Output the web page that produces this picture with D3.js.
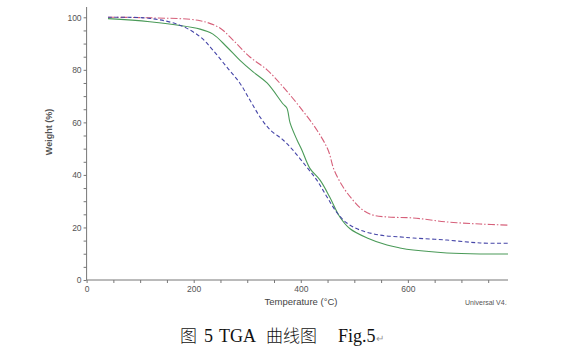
<!DOCTYPE html>
<html lang="zh">
<head>
<meta charset="UTF-8">
<title>TGA 曲线图</title>
<script src="https://cdn.jsdelivr.net/npm/d3@7/dist/d3.min.js"></script>
<style>
  body { margin: 0; background: #fff; }
  svg { display: block; }
</style>
</head>
<body>
<svg id="chart" width="580" height="355"></svg>
<script>
// 温度 (°C) 与失重 (%) 读数
var redT = [40, 118, 212, 249, 273, 305, 337, 367, 398, 430, 451, 462, 479, 497, 516, 535, 561, 610, 673, 735, 787];
var redW = [100, 99.8, 98.7, 95.9, 91.4, 84.9, 80, 73.5, 65.9, 57.1, 49.5, 42, 35.4, 30.5, 26.6, 24.7, 24, 23.6, 22.1, 21.3, 20.9];

var greenT = [40, 118, 212, 236, 262, 286, 311, 337, 367, 374, 380, 393, 402, 417, 436, 454, 473, 492, 524, 561, 585, 610, 673, 735, 787];
var greenW = [99.5, 98.3, 95.5, 93.6, 88.7, 83.7, 79.2, 75, 67, 65.5, 59.8, 53.3, 49.5, 42.5, 38, 31.6, 24, 19.5, 16, 13.3, 12.2, 11.4, 10.3, 9.9, 9.9];

var blueT = [40, 118, 174, 212, 236, 262, 286, 305, 324, 343, 367, 385, 411, 430, 449, 468, 486, 511, 548, 585, 610, 673, 735, 787];
var blueW = [100, 99.6, 97, 92.6, 87.5, 81, 75, 68.5, 62, 57.1, 53.3, 49.5, 43, 38, 31.6, 25.5, 21.7, 19, 17.1, 16.4, 16, 15.2, 14.1, 14];

var xTicks = [0, 200, 400, 600];
var yTicks = [0, 20, 40, 60, 80, 100];

var svg = d3.select("#chart");

var x = d3.scaleLinear().domain([0, 787]).range([86.6, 508]);
var y = d3.scaleLinear().domain([0, 100]).range([280, 17.3]);

var axisColor = "#777";

// 坐标轴
var gx = svg.append("g").attr("transform", "translate(0,280)");
gx.call(d3.axisBottom(x).tickValues(d3.range(0, 787, 50)).tickSize(3).tickFormat(""));
gx.selectAll(".tick").filter(function(d) { return xTicks.indexOf(d) >= 0; })
  .append("text").attr("y", 12).attr("fill", "#555")
  .attr("font-size", 8.5).attr("font-family", "Arial, 'Liberation Sans', sans-serif")
  .text(function(d) { return d; });
gx.select(".domain").attr("d", "M" + x(0) + ",0H" + x(787));

var gy = svg.append("g").attr("transform", "translate(86.6,0)");
gy.call(d3.axisLeft(y).tickValues(d3.range(0, 101, 5)).tickSize(3).tickFormat(""));
gy.selectAll(".tick").filter(function(d) { return yTicks.indexOf(d) >= 0; })
  .append("text").attr("x", -5).attr("dy", "0.32em").attr("fill", "#555")
  .attr("text-anchor", "end")
  .attr("font-size", 8.5).attr("font-family", "Arial, 'Liberation Sans', sans-serif")
  .text(function(d) { return d; });
gy.select(".domain").attr("d", "M0,280V7");

svg.selectAll(".domain, .tick line").attr("stroke", axisColor);

// 轴标题
svg.append("text")
  .attr("transform", "translate(52,132) rotate(-90)")
  .attr("text-anchor", "middle")
  .attr("font-size", 9).attr("font-weight", "bold").attr("fill", "#555")
  .attr("font-family", "Arial, 'Liberation Sans', sans-serif")
  .text("Weight (%)");

svg.append("text")
  .attr("x", 301).attr("y", 305)
  .attr("text-anchor", "middle")
  .attr("font-size", 9.5).attr("fill", "#444")
  .attr("font-family", "Arial, 'Liberation Sans', sans-serif")
  .text("Temperature (°C)");

svg.append("clipPath").attr("id", "cut")
  .append("rect").attr("x", 0).attr("y", 0).attr("width", 507).attr("height", 355);
svg.append("text")
  .attr("clip-path", "url(#cut)")
  .attr("x", 465).attr("y", 305)
  .attr("font-size", 7).attr("fill", "#555")
  .attr("font-family", "Arial, 'Liberation Sans', sans-serif")
  .text("Universal V4.5");

// 曲线
var series = [
  {t: redT, w: redW, color: "#d6607a", dash: "7,2,1.5,2"},
  {t: greenT, w: greenW, color: "#4a9a58", dash: null},
  {t: blueT, w: blueW, color: "#4646a8", dash: "4,2.5"}
];

var line = d3.line()
  .x(function(d) { return x(d[0]); })
  .y(function(d) { return y(d[1]); })
  .curve(d3.curveCatmullRom.alpha(0.5));

series.forEach(function(s) {
  var pts = s.t.map(function(t, i) { return [t, s.w[i]]; });
  svg.append("path")
    .datum(pts)
    .attr("d", line)
    .attr("fill", "none")
    .attr("stroke", s.color)
    .attr("stroke-width", 1.1)
    .attr("stroke-dasharray", s.dash);
});

// 图题
var capFont = "'Noto Sans CJK SC', 'Liberation Serif', serif";
var latin = "'Liberation Serif', 'Times New Roman', serif";
var cap = svg.append("g").attr("fill", "#111").attr("font-size", 17);
cap.append("text").attr("x", 180).attr("y", 342).attr("font-family", capFont).attr("font-weight", 300).text("图");
cap.append("text").attr("x", 204).attr("y", 342).attr("font-family", latin).attr("font-size", 18).text("5");
cap.append("text").attr("x", 219).attr("y", 342).attr("font-family", latin).attr("font-size", 18).text("TGA");
cap.append("text").attr("x", 266).attr("y", 342).attr("font-family", capFont).attr("font-weight", 300).text("曲线图");
var fig = cap.append("text").attr("x", 338).attr("y", 342).attr("font-family", latin).attr("font-size", 18);
fig.append("tspan").text("Fig.5");
fig.append("tspan").attr("font-size", 10).attr("fill", "#999").text("↵");
</script>
</body>
</html>
